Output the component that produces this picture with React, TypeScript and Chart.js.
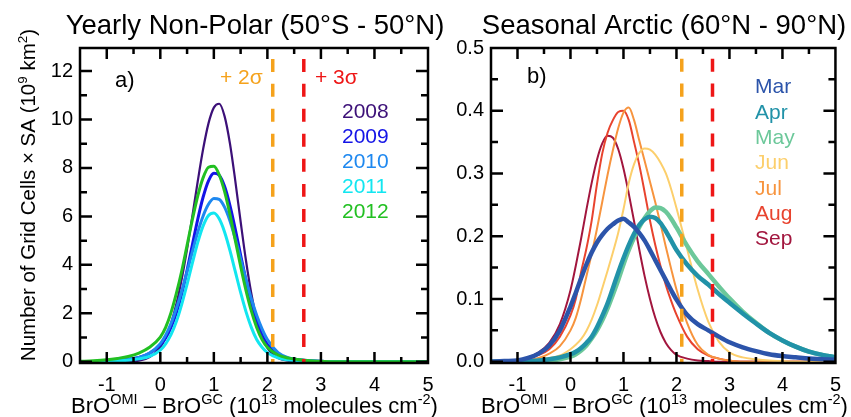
import React, { useEffect, useRef } from 'react';
import { Chart, registerables } from 'chart.js';

Chart.register(...registerables);

const FONT = '"Liberation Sans", Arial, Helvetica, sans-serif';

// shared x grid (10^13 molecules cm^-2)
const X = [-1.5, -1.25, -1.0, -0.8, -0.6, -0.4, -0.2, 0.0, 0.1, 0.2, 0.3, 0.4, 0.5, 0.6, 0.7, 0.8, 0.9, 1.0, 1.1, 1.2, 1.3, 1.4, 1.5, 1.6, 1.7, 1.8, 1.9, 2.0, 2.2, 2.4, 2.6, 2.8, 3.0, 3.25, 3.5, 3.75, 4.0, 4.25, 4.5, 4.75, 5.0];

// panel a) yearly non-polar (10^9 km^2)
const YEARS = ['2008', '2009', '2010', '2011', '2012'];
const Y2008 = [0, 0, 0, 0.01, 0.02, 0.05, 0.19, 0.60, 1.00, 1.58, 2.38, 3.41, 4.65, 6.03, 7.46, 8.78, 9.84, 10.49, 10.65, 10.14, 9.02, 7.48, 5.79, 4.18, 2.82, 1.77, 1.04, 0.57, 0.15, 0.04, 0.01, 0, 0, 0, 0, 0, 0, 0, 0, 0, 0];
const Y2009 = [0, 0.01, 0.02, 0.05, 0.1, 0.18, 0.35, 0.7, 0.98, 1.42, 2.02, 2.80, 3.77, 4.84, 5.89, 6.80, 7.47, 7.78, 7.70, 7.24, 6.46, 5.48, 4.41, 3.37, 2.44, 1.69, 1.10, 0.72, 0.3, 0.14, 0.07, 0.04, 0.02, 0, 0, 0, 0, 0, 0, 0, 0];
const Y2010 = [0, 0.01, 0.02, 0.05, 0.1, 0.18, 0.36, 0.75, 1.1, 1.58, 2.2, 2.92, 3.72, 4.55, 5.35, 6.02, 6.50, 6.74, 6.70, 6.38, 5.82, 5.08, 4.25, 3.40, 2.60, 1.92, 1.36, 0.92, 0.38, 0.16, 0.08, 0.04, 0.02, 0, 0, 0, 0, 0, 0, 0, 0];
const Y2011 = [0, 0, 0, 0.03, 0.06, 0.12, 0.22, 0.48, 0.74, 1.12, 1.66, 2.37, 3.20, 4.08, 4.93, 5.61, 6.04, 6.14, 5.90, 5.36, 4.60, 3.73, 2.86, 2.07, 1.42, 0.92, 0.6, 0.38, 0.16, 0.07, 0.04, 0.02, 0.01, 0, 0, 0, 0, 0, 0, 0, 0];
const Y2012 = [0.02, 0.04, 0.08, 0.14, 0.22, 0.36, 0.6, 1.02, 1.42, 2.03, 2.82, 3.74, 4.81, 5.88, 6.85, 7.60, 8.03, 8.07, 7.72, 7.03, 6.09, 5.02, 3.94, 2.95, 2.10, 1.42, 0.92, 0.6, 0.28, 0.15, 0.08, 0.04, 0.02, 0, 0, 0, 0, 0, 0, 0, 0];
const YEAR_COLORS = ['#3c1078', '#1414e6', '#1e88f0', '#12e6f0', '#22c022'];
const YEAR_WIDTHS = [2.2, 3, 3, 3, 3];

// panel b) seasonal arctic
const MONTHS = ['Mar', 'Apr', 'May', 'Jun', 'Jul', 'Aug', 'Sep'];
const MAR = [0, 0.001, 0.002, 0.006, 0.013, 0.026, 0.05, 0.088, 0.11, 0.133, 0.155, 0.174, 0.19, 0.202, 0.212, 0.219, 0.225, 0.228, 0.222, 0.215, 0.205, 0.193, 0.178, 0.162, 0.146, 0.13, 0.114, 0.099, 0.075, 0.06, 0.05, 0.04, 0.031, 0.023, 0.017, 0.012, 0.009, 0.007, 0.005, 0.004, 0.003];
const APR = [0, 0, 0, 0.001, 0.002, 0.004, 0.007, 0.012, 0.016, 0.022, 0.03, 0.04, 0.055, 0.073, 0.093, 0.117, 0.142, 0.165, 0.186, 0.204, 0.218, 0.227, 0.231, 0.229, 0.221, 0.208, 0.193, 0.178, 0.155, 0.137, 0.123, 0.108, 0.094, 0.077, 0.061, 0.046, 0.034, 0.024, 0.016, 0.011, 0.007];
const MAY = [0, 0, 0, 0, 0.001, 0.002, 0.004, 0.008, 0.012, 0.018, 0.026, 0.037, 0.05, 0.066, 0.085, 0.107, 0.13, 0.155, 0.178, 0.198, 0.215, 0.229, 0.24, 0.246, 0.245, 0.239, 0.228, 0.214, 0.185, 0.16, 0.14, 0.12, 0.101, 0.08, 0.062, 0.046, 0.034, 0.024, 0.016, 0.011, 0.007];
const JUN = [0, 0, 0.001, 0.002, 0.004, 0.006, 0.01, 0.02, 0.027, 0.036, 0.049, 0.067, 0.09, 0.117, 0.145, 0.174, 0.205, 0.243, 0.285, 0.315, 0.333, 0.34, 0.338, 0.33, 0.317, 0.30, 0.275, 0.245, 0.18, 0.115, 0.064, 0.032, 0.015, 0.007, 0.004, 0.002, 0.001, 0, 0, 0, 0];
const JUL = [0, 0.001, 0.002, 0.003, 0.006, 0.013, 0.025, 0.05, 0.07, 0.1, 0.136, 0.172, 0.212, 0.255, 0.298, 0.337, 0.372, 0.397, 0.405, 0.385, 0.352, 0.32, 0.287, 0.254, 0.219, 0.183, 0.148, 0.115, 0.062, 0.027, 0.011, 0.005, 0.002, 0, 0, 0, 0, 0, 0, 0, 0];
const AUG = [0, 0.001, 0.003, 0.006, 0.011, 0.02, 0.04, 0.074, 0.1, 0.143, 0.18, 0.225, 0.283, 0.332, 0.365, 0.385, 0.398, 0.40, 0.385, 0.35, 0.313, 0.27, 0.225, 0.186, 0.152, 0.122, 0.097, 0.075, 0.04, 0.02, 0.01, 0.005, 0.002, 0, 0, 0, 0, 0, 0, 0, 0];
const SEP = [0, 0.001, 0.003, 0.007, 0.015, 0.03, 0.06, 0.114, 0.153, 0.196, 0.242, 0.285, 0.322, 0.348, 0.36, 0.357, 0.339, 0.308, 0.268, 0.224, 0.178, 0.136, 0.10, 0.07, 0.047, 0.03, 0.0185, 0.011, 0.005, 0.002, 0.001, 0, 0, 0, 0, 0, 0, 0, 0, 0, 0];
const MONTH_COLORS = ['#2c54aa', '#2192a8', '#6cc89a', '#fccf6c', '#f7943e', '#e8432e', '#a2163e'];
const MONTH_WIDTHS = [4.5, 4.5, 4.5, 2, 2, 2, 2];

// thresholds
const SIGMA2 = 2.1;
const SIGMA3 = 2.68;
const SIGMA_TOP_A = 12.5;
const SIGMA_TOP_B = 0.483;
const C_2S = '#f5a21c';
const C_3S = '#ee1616';

const X_TITLE: [string, boolean][] = [['BrO', false], ['OMI', true], [' \u2013 BrO', false], ['GC', true], [' (10', false], ['13', true], [' molecules cm', false], ['-2', true], [')', false]];
const Y_TITLE: [string, boolean][] = [['Number of Grid Cells \u00d7 SA (10', false], ['9', true], [' km', false], ['2', true], [')', false]];

function drawRich(ctx: CanvasRenderingContext2D, parts: [string, boolean][], x: number, y: number, size: number, align: 'left' | 'center') {
  const sup = size * 0.66;
  const widths = parts.map(([t, s]) => {
    ctx.font = `${s ? sup : size}px ${FONT}`;
    return ctx.measureText(t).width;
  });
  const total = widths.reduce((a, b) => a + b, 0);
  let cx = align === 'center' ? x - total / 2 : x;
  ctx.textAlign = 'left';
  ctx.textBaseline = 'alphabetic';
  parts.forEach(([t, s], i) => {
    ctx.font = `${s ? sup : size}px ${FONT}`;
    ctx.fillText(t, cx, s ? y - size * 0.4 : y);
    cx += widths[i];
  });
}

const decorPlugin = {
  id: 'decor',
  afterDatasetsDraw(chart: any, _args: any, o: any) {
    const { ctx, chartArea: a } = chart;
    const xs = chart.scales.x;
    const ys = chart.scales.y;
    ctx.save();
    // frame
    ctx.strokeStyle = '#000';
    ctx.lineWidth = 2.5;
    ctx.strokeRect(a.left, a.top, a.right - a.left, a.bottom - a.top);
    // inward ticks
    ctx.lineWidth = 2.5;
    const isMajor = (v: number, m: number) => Math.abs(v / m - Math.round(v / m)) < 1e-6;
    for (let k = Math.ceil(xs.min / o.xMinor - 1e-9); k * o.xMinor <= xs.max + 1e-9; k++) {
      const v = k * o.xMinor;
      const px = xs.getPixelForValue(v);
      if (px <= a.left + 1 || px >= a.right - 1) continue;
      const len = isMajor(v, o.xMajor) ? 11 : 6;
      ctx.beginPath();
      ctx.moveTo(px, a.bottom); ctx.lineTo(px, a.bottom - len);
      ctx.moveTo(px, a.top); ctx.lineTo(px, a.top + len);
      ctx.stroke();
    }
    for (let k = Math.ceil(ys.min / o.yMinor - 1e-9); k * o.yMinor <= ys.max + 1e-9; k++) {
      const v = k * o.yMinor;
      const py = ys.getPixelForValue(v);
      if (py <= a.top + 1 || py >= a.bottom - 1) continue;
      const len = isMajor(v, o.yMajor) ? 12 : 7;
      ctx.beginPath();
      ctx.moveTo(a.left, py); ctx.lineTo(a.left + len, py);
      ctx.moveTo(a.right, py); ctx.lineTo(a.right - len, py);
      ctx.stroke();
    }
    // title
    ctx.fillStyle = '#000';
    ctx.textAlign = 'center';
    ctx.textBaseline = 'alphabetic';
    ctx.font = `27.5px ${FONT}`;
    ctx.fillText(o.title, o.titleX, o.titleY);
    // panel letter
    ctx.textAlign = 'left';
    ctx.font = `22px ${FONT}`;
    ctx.fillText(o.panel, o.panelX, o.panelY);
    // notes
    ctx.font = `21px ${FONT}`;
    (o.notes || []).forEach((n: any) => {
      ctx.fillStyle = n.color;
      ctx.fillText(n.text, n.x, n.y);
    });
    // legend
    const items = chart.data.datasets.filter((d: any) => d.label);
    items.forEach((d: any, i: number) => {
      ctx.fillStyle = d.borderColor;
      ctx.fillText(d.label, o.legendX, o.legendY + i * o.legendDy);
    });
    // axis titles
    ctx.fillStyle = '#000';
    drawRich(ctx, X_TITLE, o.xTitleX, o.xTitleY, 22, 'center');
    if (o.yTitle) {
      ctx.save();
      ctx.translate(o.yTitleX, o.yTitleY);
      ctx.rotate(-Math.PI / 2);
      drawRich(ctx, Y_TITLE, 0, 0, 20.5, 'center');
      ctx.restore();
    }
    ctx.restore();
  },
};

function series(ys: number[]) {
  return X.map((x, i) => ({ x, y: ys[i] }));
}

function sigmaSets(yLow: number, yTop: number) {
  return [
    { label: '', data: [{ x: SIGMA2, y: yTop }, { x: SIGMA2, y: yLow }], borderColor: C_2S, borderWidth: 3.5, borderDash: [13, 12], order: 0 },
    { label: '', data: [{ x: SIGMA3, y: yTop }, { x: SIGMA3, y: yLow }], borderColor: C_3S, borderWidth: 3.5, borderDash: [13, 12], order: 0 },
  ];
}

function makeConfig(p: any): any {
  return {
    type: 'line',
    data: { datasets: [...p.datasets, ...sigmaSets(p.yMin, p.sigmaTop)] },
    options: {
      animation: false,
      responsive: false,
      maintainAspectRatio: false,
      devicePixelRatio: 1,
      layout: { padding: { left: p.padL, right: p.padR, top: 48, bottom: 0 } },
      elements: { point: { radius: 0 }, line: { cubicInterpolationMode: 'monotone' } },
      plugins: { legend: { display: false }, tooltip: { enabled: false }, decor: p.decor },
      scales: {
        x: {
          type: 'linear', min: -1.5, max: 5,
          ticks: { stepSize: 1, includeBounds: false, autoSkip: false, maxRotation: 0, color: '#000', padding: 10, font: { family: FONT, size: 20 } },
          grid: { display: false, drawTicks: false },
          border: { display: false },
          afterFit: (s: any) => { s.height = 54; },
        },
        y: {
          type: 'linear', min: p.yMin, max: p.yMax,
          ticks: { stepSize: p.yStep, includeBounds: false, color: '#000', padding: 7, font: { family: FONT, size: 20 }, callback: p.fmt },
          grid: { display: false, drawTicks: false },
          border: { display: false },
          afterFit: (s: any) => { s.width = p.yWidth; },
        },
      },
    },
    plugins: [decorPlugin],
  };
}

export default function App() {
  const leftRef = useRef<HTMLCanvasElement>(null);
  const rightRef = useRef<HTMLCanvasElement>(null);

  useEffect(() => {
    document.body.style.margin = '0';
    const yearData = [Y2008, Y2009, Y2010, Y2011, Y2012];
    const monthData = [MAR, APR, MAY, JUN, JUL, AUG, SEP];
    const left = new Chart(leftRef.current as HTMLCanvasElement, makeConfig({
      padL: 0, padR: 423, yWidth: 80, yMin: -0.05, yMax: 12.95, yStep: 2, sigmaTop: SIGMA_TOP_A,
      fmt: (v: any) => String(Math.round(Number(v))),
      datasets: YEARS.map((label, i) => ({
        label, data: series(yearData[i]), borderColor: YEAR_COLORS[i], borderWidth: YEAR_WIDTHS[i], order: 5 - i,
      })),
      decor: {
        title: 'Yearly Non-Polar (50\u00b0S - 50\u00b0N)', titleX: 255, titleY: 34,
        panel: 'a)', panelX: 115, panelY: 87,
        notes: [{ text: '+ 2\u03c3', color: C_2S, x: 220, y: 84 }, { text: '+ 3\u03c3', color: C_3S, x: 315, y: 84 }],
        legendX: 342, legendY: 117.5, legendDy: 25.2,
        xTitleX: 254.5, xTitleY: 413,
        yTitle: true, yTitleX: 35, yTitleY: 195,
        xMinor: 0.5, xMajor: 1, yMinor: 1, yMajor: 2,
      },
    }));
    const right = new Chart(rightRef.current as HTMLCanvasElement, makeConfig({
      padL: 430, padR: 11, yWidth: 61, yMin: -0.002, yMax: 0.5, yStep: 0.1, sigmaTop: SIGMA_TOP_B,
      fmt: (v: any) => Number(v).toFixed(1),
      datasets: MONTHS.map((label, i) => ({
        label, data: series(monthData[i]), borderColor: MONTH_COLORS[i], borderWidth: MONTH_WIDTHS[i], order: i + 1,
      })),
      decor: {
        title: 'Seasonal Arctic (60\u00b0N - 90\u00b0N)', titleX: 664, titleY: 34,
        panel: 'b)', panelX: 527, panelY: 83,
        notes: [],
        legendX: 755, legendY: 93.3, legendDy: 25.3,
        xTitleX: 664.5, xTitleY: 413,
        yTitle: false,
        xMinor: 0.5, xMajor: 1, yMinor: 0.05, yMajor: 0.1,
      },
    }));
    return () => { left.destroy(); right.destroy(); };
  }, []);

  return (
    <div style={{ position: 'relative', width: 851, height: 417, background: '#fff' }}>
      <canvas ref={leftRef} width={851} height={417} style={{ position: 'absolute', left: 0, top: 0, width: 851, height: 417 }} />
      <canvas ref={rightRef} width={851} height={417} style={{ position: 'absolute', left: 0, top: 0, width: 851, height: 417 }} />
    </div>
  );
}
